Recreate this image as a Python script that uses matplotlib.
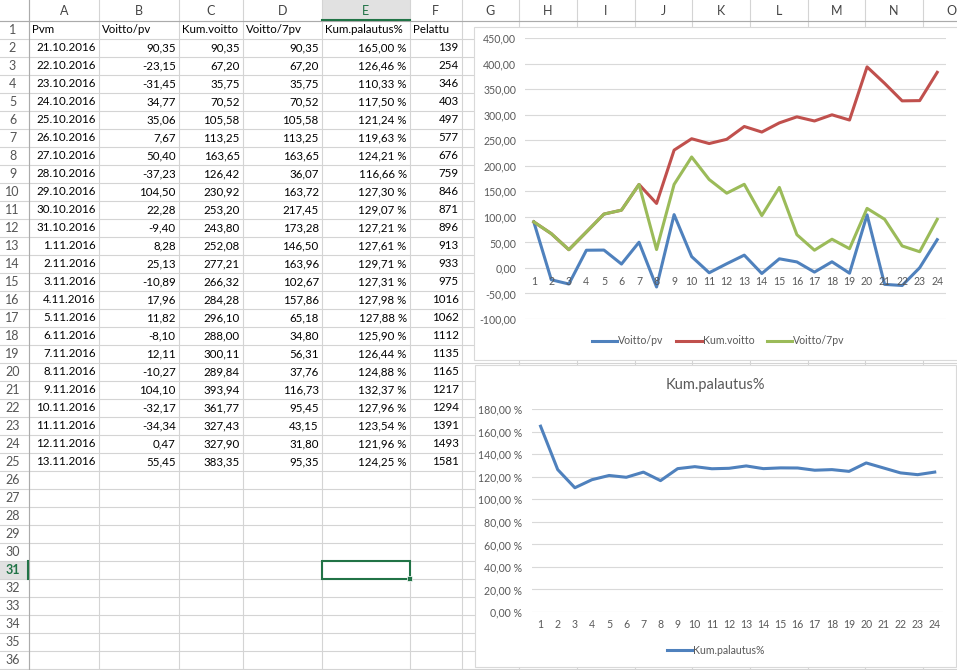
import matplotlib
matplotlib.use('Agg')
import matplotlib.pyplot as plt
from matplotlib.patches import Rectangle

plt.rcParams['font.family'] = ['Lato', 'DejaVu Sans']

W, H = 957, 670

# taulukon data
headers = ['Pvm', 'Voitto/pv', 'Kum.voitto', 'Voitto/7pv', 'Kum.palautus%', 'Pelattu']
dates = ['21.10.2016', '22.10.2016', '23.10.2016', '24.10.2016', '25.10.2016', '26.10.2016',
         '27.10.2016', '28.10.2016', '29.10.2016', '30.10.2016', '31.10.2016', '1.11.2016',
         '2.11.2016', '3.11.2016', '4.11.2016', '5.11.2016', '6.11.2016', '7.11.2016',
         '8.11.2016', '9.11.2016', '10.11.2016', '11.11.2016', '12.11.2016', '13.11.2016']
voitto_pv = [90.35, -23.15, -31.45, 34.77, 35.06, 7.67, 50.40, -37.23, 104.50, 22.28, -9.40, 8.28,
             25.13, -10.89, 17.96, 11.82, -8.10, 12.11, -10.27, 104.10, -32.17, -34.34, 0.47, 55.45]
kum_voitto = [90.35, 67.20, 35.75, 70.52, 105.58, 113.25, 163.65, 126.42, 230.92, 253.20, 243.80,
              252.08, 277.21, 266.32, 284.28, 296.10, 288.00, 300.11, 289.84, 393.94, 361.77,
              327.43, 327.90, 383.35]
voitto_7pv = [90.35, 67.20, 35.75, 70.52, 105.58, 113.25, 163.65, 36.07, 163.72, 217.45, 173.28,
              146.50, 163.96, 102.67, 157.86, 65.18, 34.80, 56.31, 37.76, 116.73, 95.45, 43.15,
              31.80, 95.35]
kum_palautus = [165.00, 126.46, 110.33, 117.50, 121.24, 119.63, 124.21, 116.66, 127.30, 129.07,
                127.21, 127.61, 129.71, 127.31, 127.98, 127.88, 125.90, 126.44, 124.88, 132.37,
                127.96, 123.54, 121.96, 124.25]
pelattu = [139, 254, 346, 403, 497, 577, 676, 759, 846, 871, 896, 913, 933, 975, 1016, 1062,
           1112, 1135, 1165, 1217, 1294, 1391, 1493, 1581]
days = list(range(1, 25))

col_letters = ['A', 'B', 'C', 'D', 'E', 'F', 'G', 'H', 'I', 'J', 'K', 'L', 'M', 'N', 'O']
col_edges = [29, 98.7, 178.7, 242.7, 321.7, 409.7, 461.7, 519.3, 576.7, 634.7, 691.7,
             749.7, 807.7, 864.7, 922.7, 980]
n_rows = 36
row_top = 20.5
row_h = 18

chart1_ticks = [-100, -50, 0, 50, 100, 150, 200, 250, 300, 350, 400, 450]
chart2_ticks = [0, 20, 40, 60, 80, 100, 120, 140, 160, 180]

C_BLUE = '#4F81BD'
C_RED = '#C0504D'
C_GREEN = '#9BBB59'
C_GRID = '#d4d4d4'
C_SEL = '#217346'


def fi(v):
    return f"{v:.2f}".replace('.', ',')


fig = plt.figure(figsize=(W / 100, H / 100), dpi=100)
bg = fig.add_axes([0, 0, 1, 1])
bg.set_xlim(0, W)
bg.set_ylim(H, 0)
bg.axis('off')

# valitun solun korostukset otsikoissa
sel_col = 4
sel_row = 31
bg.add_patch(Rectangle((col_edges[sel_col], 0), col_edges[sel_col + 1] - col_edges[sel_col], row_top,
                       facecolor='#e1e1e1', edgecolor='none', zorder=0))
bg.add_patch(Rectangle((0, row_top + row_h * (sel_row - 1)), col_edges[0], row_h,
                       facecolor='#e1e1e1', edgecolor='none', zorder=0))

# ruudukko
for k in range(n_rows + 1):
    y = row_top + row_h * k
    bg.plot([0, W], [y, y], color=C_GRID, lw=0.8, zorder=1)
for x in col_edges:
    bg.plot([x, x], [0, H], color=C_GRID, lw=0.8, zorder=1)
bg.plot([0, W], [row_top, row_top], color='#ababab', lw=0.8, zorder=1)
bg.plot([col_edges[0], col_edges[0]], [0, H], color='#ababab', lw=0.8, zorder=1)
bg.plot([col_edges[sel_col], col_edges[sel_col + 1]], [row_top - 1, row_top - 1], color=C_SEL, lw=1.5,
        zorder=2)
bg.plot([col_edges[0] - 1, col_edges[0] - 1],
        [row_top + row_h * (sel_row - 1), row_top + row_h * sel_row], color=C_SEL, lw=1.5, zorder=2)

# sarakkeiden ja rivien otsikot
for i, c in enumerate(col_letters):
    xc = (col_edges[i] + col_edges[i + 1]) / 2
    sel = i == sel_col
    bg.text(xc, 11, c, ha='center', va='center', fontsize=9,
            color=C_SEL if sel else '#444444', zorder=2)
for r in range(1, n_rows + 1):
    yc = row_top + row_h * (r - 0.5)
    sel = r == sel_row
    bg.text(12.5, yc, str(r), ha='center', va='center', fontsize=9,
            color=C_SEL if sel else '#555555', fontweight='bold' if sel else 'normal', zorder=2)

# solujen sisältö
yc = row_top + row_h * 0.5
for i, h in enumerate(headers):
    bg.text(col_edges[i] + 3, yc, h, ha='left', va='center', fontsize=8.3, color='black', zorder=2)

columns = [dates, [fi(v) for v in voitto_pv], [fi(v) for v in kum_voitto],
           [fi(v) for v in voitto_7pv], [fi(v) + ' %' for v in kum_palautus],
           [str(v) for v in pelattu]]
for i, col in enumerate(columns):
    for r, val in enumerate(col):
        yc = row_top + row_h * (r + 1.5)
        bg.text(col_edges[i + 1] - 3, yc, val, ha='right', va='center', fontsize=8.3, color='black',
                zorder=2)

# valittu solu
sx0, sx1 = col_edges[sel_col], col_edges[sel_col + 1]
sy0 = row_top + row_h * (sel_row - 1)
bg.add_patch(Rectangle((sx0, sy0), sx1 - sx0, row_h, facecolor='none', edgecolor=C_SEL, lw=1.5, zorder=3))
bg.add_patch(Rectangle((sx1 - 2.5, sy0 + row_h - 2.5), 5, 5, facecolor=C_SEL, edgecolor='white', lw=0.5,
                       zorder=4))

# kaavioiden pohjat
bg.add_patch(Rectangle((474.3, 26.5), 500, 333.8, facecolor='white', edgecolor='#d9d9d9', lw=0.8,
                       zorder=5))
bg.add_patch(Rectangle((474.7, 365.3), 481.3, 301.5, facecolor='white', edgecolor='#d9d9d9', lw=0.8,
                       zorder=5))


def fig_rect(x0, y0, x1, y1):
    return [x0 / W, 1 - y1 / H, (x1 - x0) / W, (y1 - y0) / H]


TICK_C = '#595959'

# kaavio 1
ax1 = fig.add_axes(fig_rect(525, 38.3, 946, 319))
ax1.patch.set_alpha(0)
ax1.plot(days, voitto_pv, color=C_BLUE, lw=2.2, label='Voitto/pv', solid_joinstyle='round')
ax1.plot(days, kum_voitto, color=C_RED, lw=2.2, label='Kum.voitto', solid_joinstyle='round')
ax1.plot(days, voitto_7pv, color=C_GREEN, lw=2.2, label='Voitto/7pv', solid_joinstyle='round')
ax1.set_xlim(0.5, 24.5)
ax1.set_ylim(-100, 450)
ax1.set_yticks(chart1_ticks)
ax1.set_yticklabels([fi(t) for t in chart1_ticks])
ax1.set_xticks([])
ax1.grid(axis='y', color='#d9d9d9', lw=0.8)
ax1.set_axisbelow(True)
for s in ax1.spines.values():
    s.set_visible(False)
ax1.tick_params(axis='y', length=0, pad=6.5, labelsize=7.6, labelcolor=TICK_C)
for d in days:
    ax1.annotate(str(d), (d, 0), xytext=(0, -14), textcoords='offset pixels',
                 ha='center', va='center', fontsize=7.6, color=TICK_C)
ax1.legend(loc='center', bbox_to_anchor=(718.3 / W, 1 - 341 / H), bbox_transform=fig.transFigure,
           ncol=3, frameon=False, fontsize=7.6, handlelength=2.4, handletextpad=0.1,
           columnspacing=1.2, labelcolor=TICK_C)

# kaavio 2
ax2 = fig.add_axes(fig_rect(532, 409.3, 943.3, 612))
ax2.patch.set_alpha(0)
ax2.plot(days, kum_palautus, color=C_BLUE, lw=2.2, label='Kum.palautus%', solid_joinstyle='round')
ax2.set_xlim(0.5, 24.5)
ax2.set_ylim(0, 180)
ax2.set_yticks(chart2_ticks)
ax2.set_yticklabels([fi(t) + ' %' for t in chart2_ticks])
ax2.set_xticks(days)
ax2.set_xticklabels([str(d) for d in days])
ax2.grid(axis='y', color='#d9d9d9', lw=0.8)
ax2.set_axisbelow(True)
for s in ax2.spines.values():
    s.set_visible(False)
ax2.tick_params(axis='both', length=0, labelsize=7.6, labelcolor=TICK_C)
ax2.tick_params(axis='y', pad=7)
ax2.tick_params(axis='x', pad=5)
fig.text(715 / W, 1 - 385 / H, 'Kum.palautus%', ha='center', va='center', fontsize=10.5, color=TICK_C)
ax2.legend(loc='center', bbox_to_anchor=(716 / W, 1 - 650 / H), bbox_transform=fig.transFigure,
           frameon=False, fontsize=7.6, handlelength=2.4, handletextpad=0.1, labelcolor=TICK_C)

plt.savefig('out.png', dpi=100)
plt.close()
